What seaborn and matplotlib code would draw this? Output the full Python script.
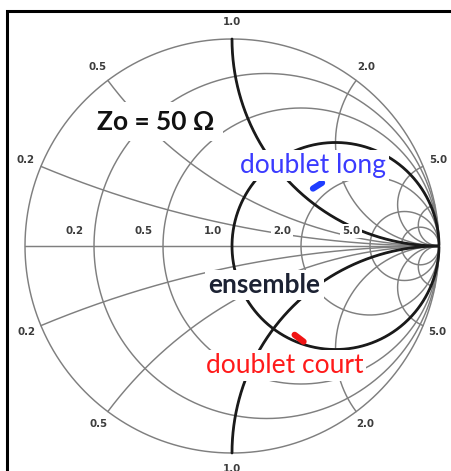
import numpy as np
import pandas as pd
import matplotlib
matplotlib.use("Agg")
import matplotlib.pyplot as plt
import seaborn as sns

# ---- chart data -------------------------------------------------------
Z0 = 50.0                                     # reference impedance, ohms
resistance_values = [0.2, 0.5, 1.0, 2.0, 5.0, 10.0]
reactance_values = [0.2, 0.5, 1.0, 2.0, 5.0, 10.0]
scale_labels = [0.2, 0.5, 1.0, 2.0, 5.0]
bold_resistance = [1.0]
bold_reactance = [1.0, -1.0]

# measured impedance sweeps (ohms)
doublet_long_ohm = [86 + 62j, 87 + 74j]
doublet_court_ohm = [54 - 64j, 52 - 72j]

# ---- helpers ----------------------------------------------------------
def gamma(z):
    z = np.asarray(z, dtype=complex)
    return (z - 1) / (z + 1)

t = np.linspace(0, 1, 800, endpoint=False)
sweep = np.tan(t * np.pi / 2)               # 0 .. +inf
full = np.concatenate([-sweep[::-1], sweep])  # -inf .. +inf

def r_curve(r):
    return gamma(r + 1j * full)

def x_curve(x):
    return gamma(sweep + 1j * x)

rows = []
cid = 0
for r in [0.0] + resistance_values:
    g = r_curve(r)
    rows.append(pd.DataFrame({"gr": g.real, "gi": g.imag, "curve": cid})); cid += 1
for x in reactance_values:
    for s in (1, -1):
        g = x_curve(s * x)
        rows.append(pd.DataFrame({"gr": g.real, "gi": g.imag, "curve": cid})); cid += 1
g = gamma(sweep)
rows.append(pd.DataFrame({"gr": np.r_[-1, g.real], "gi": np.r_[0, g.imag], "curve": cid}))
grid = pd.concat(rows, ignore_index=True)

brows = []
for r in bold_resistance:
    g = r_curve(r)
    brows.append(pd.DataFrame({"gr": g.real, "gi": g.imag, "curve": f"r{r}"}))
for x in bold_reactance:
    g = x_curve(x)
    brows.append(pd.DataFrame({"gr": g.real, "gi": g.imag, "curve": f"x{x}"}))
bold = pd.concat(brows, ignore_index=True)

# ---- figure -----------------------------------------------------------
sns.set_theme(style="white")
W, H = 452, 471
CX, CY, R = 232.0, 246.0, 207.0
fig = plt.figure(figsize=(W / 100, H / 100), dpi=100)
ax = fig.add_axes([0, 0, 1, 1])
ax.set_xlim(-CX / R, (W - CX) / R)
ax.set_ylim(-(H - CY) / R, CY / R)
ax.axis("off")

def px(x, y):
    return (x - CX) / R, (CY - y) / R

sns.lineplot(data=grid, x="gr", y="gi", units="curve", estimator=None, sort=False,
             color="#7f7f7f", linewidth=1.05, ax=ax, legend=False)
sns.lineplot(data=bold, x="gr", y="gi", units="curve", estimator=None, sort=False,
             color="#1a1a1a", linewidth=2.0, ax=ax, legend=False)
ax.set_xlabel(""); ax.set_ylabel("")

# outer frame
fx0, fy0 = px(6.5, 10.5)
fx1, fy1 = px(6.5, 490)
fx2, fy2 = px(470, 10.5)
ax.plot([fx1, fx0, fx2], [fy1, fy0, fy2], color="black", lw=2.2, clip_on=False,
        solid_joinstyle="miter")

# scale labels
lab_kw = dict(fontsize=7.4, fontweight="bold", color="#3c3c3c", family="DejaVu Sans",
              ha="center", va="center")
box = dict(boxstyle="square,pad=0.15", fc="white", ec="none")
for v in scale_labels:
    txt = f"{v:.1f}"
    # along the real axis, left of each resistance circle
    left = gamma(v).real
    ax.text(left - 19 / R, 15 / R, txt, bbox=box, **lab_kw)
    # around the rim, at the ends of the reactance arcs
    for s in (1, -1):
        g = gamma(1j * s * v)
        k = 1.08 if s > 0 else 1.075
        ax.text(g.real * k, g.imag * k, txt, **lab_kw)

# markers
for pts, col in ((doublet_long_ohm, "#1f3dff"), (doublet_court_ohm, "#f01414")):
    g = gamma(np.array(pts) / Z0)
    ax.plot(g.real, g.imag, color=col, lw=4.5, solid_capstyle="round")

# annotations
fam = ["Lato", "DejaVu Sans"]
ax.text(*px(156, 129.5), "Zo = 50 Ω", family=fam, fontsize=19, fontweight="bold",
        color="#111111", ha="center", va="baseline",
        bbox=dict(boxstyle="square,pad=0.3", fc="white", ec="none"))
tb = dict(boxstyle="square,pad=0.12", fc="white", ec="none")
ax.text(*px(312.5, 173), "doublet long", family=fam, fontsize=19,
        color="#3b3bff", ha="center", va="baseline", bbox=tb)
ax.text(*px(264.5, 293), "ensemble", family=fam, fontsize=19, fontweight="bold",
        color="#1c2233", ha="center", va="baseline", bbox=tb)
ax.text(*px(284.5, 373), "doublet court", family=fam, fontsize=19,
        color="#ff1a1a", ha="center", va="baseline", bbox=tb)

fig.savefig("out.png", dpi=100, facecolor="white")
